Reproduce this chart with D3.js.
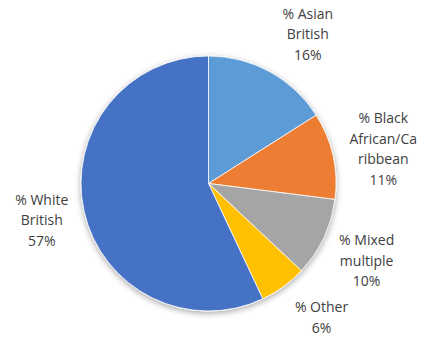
<!DOCTYPE html>
<html>
<head>
<meta charset="utf-8">
<script src="https://cdn.jsdelivr.net/npm/d3@7"></script>
<style>
  html, body { margin: 0; padding: 0; background: #fff; }
  svg { display: block; }
</style>
</head>
<body>
<svg id="chart" width="425" height="340"></svg>
<script>
// Ethnic group shares (percent), clockwise from 12 o'clock
const categories = ["% Asian British", "% Black African/Caribbean", "% Mixed multiple", "% Other", "% White British"];
const values = [16, 11, 10, 6, 57];
const colors = ["#5B9BD5", "#ED7D31", "#A5A5A5", "#FFC000", "#4472C4"];
// Label lines as they wrap inside the data label boxes
const labelLines = [
  ["% Asian", "British"],
  ["% Black", "African/Ca", "ribbean"],
  ["% Mixed", "multiple"],
  ["% Other"],
  ["% White", "British"]
];
// Small nudges applied to each label after placing it on the label ring
const labelNudge = [[14, 6], [2, 4], [-2, 2], [9, -9], [6, -2]];

const width = 425, height = 340;
const cx = 208.5, cy = 183.5, radius = 127.5;
const labelRadius = 177;
const lineHeight = 20.5;

const svg = d3.select("#chart");

// soft outer shadow around the pie
const defs = svg.append("defs");
const f = defs.append("filter").attr("id", "soft")
  .attr("x", "-20%").attr("y", "-20%").attr("width", "140%").attr("height", "140%");
f.append("feGaussianBlur").attr("in", "SourceAlpha").attr("stdDeviation", 3).attr("result", "b");
f.append("feOffset").attr("in", "b").attr("dx", 0).attr("dy", 1.5).attr("result", "o");
f.append("feComponentTransfer").attr("in", "o").attr("result", "s")
  .append("feFuncA").attr("type", "linear").attr("slope", 0.35);
const m = f.append("feMerge");
m.append("feMergeNode").attr("in", "s");
m.append("feMergeNode").attr("in", "SourceGraphic");

const g = svg.append("g").attr("transform", `translate(${cx},${cy})`);

const pie = d3.pie().sort(null).value(d => d.value);
const data = categories.map((c, i) => ({
  name: c, value: values[i], color: colors[i], lines: labelLines[i], nudge: labelNudge[i]
}));
const arcs = pie(data);

const arc = d3.arc().innerRadius(0).outerRadius(radius);
const labelArc = d3.arc().innerRadius(labelRadius).outerRadius(labelRadius);

g.append("g")
  .attr("filter", "url(#soft)")
  .selectAll("path.slice")
  .data(arcs)
  .join("path")
  .attr("class", "slice")
  .attr("d", arc)
  .attr("fill", d => d.data.color)
  .attr("stroke", "#fff")
  .attr("stroke-width", 0.8);

const labels = g.selectAll("text.label")
  .data(arcs)
  .join("text")
  .attr("class", "label")
  .attr("text-anchor", "middle")
  .attr("font-family", "'Open Sans', sans-serif")
  .attr("font-size", 14)
  .attr("fill", "#404040")
  .attr("transform", d => {
    const [x, y] = labelArc.centroid(d);
    return `translate(${x + d.data.nudge[0]},${y + d.data.nudge[1]})`;
  });

labels.each(function(d) {
  const lines = d.data.lines.concat([d.data.value + "%"]);
  const n = lines.length;
  const t = d3.select(this);
  lines.forEach((ln, i) => {
    t.append("tspan")
      .attr("x", 0)
      .attr("y", (i - (n - 1) / 2) * lineHeight)
      .attr("dy", "0.35em")
      .text(ln);
  });
});
</script>
</body>
</html>
